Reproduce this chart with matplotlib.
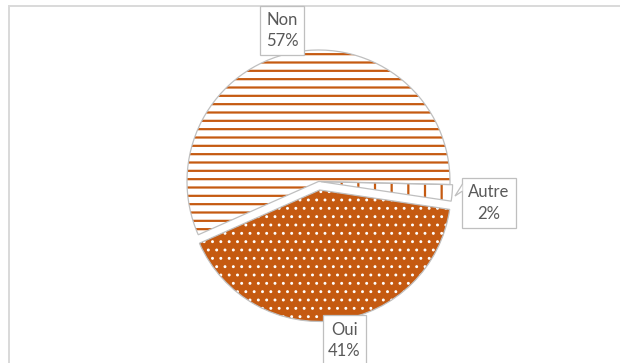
import matplotlib
matplotlib.use("Agg")
import matplotlib.pyplot as plt
from matplotlib.patches import Rectangle, Polygon

plt.rcParams['font.family'] = ['Lato', 'DejaVu Sans']
plt.rcParams['hatch.linewidth'] = 1.6

# data
labels = ["Oui", "Non", "Autre"]
shares = [41, 57, 2]
explode = [0.065, 0, 0.02]  # fraction of radius
fills = ["#C55A11", "white", "white"]
hatch_colors = ["white", "#C55A11", "#C55A11"]
hatches = ["..", "--", "|"]

W, H = 620, 363
fig = plt.figure(figsize=(W / 100, H / 100), dpi=100)
ax = fig.add_axes([0, 0, 1, 1])

center = (318.5, H - 181.5)
radius = 131.5
start = -8.5
offsets = [e * radius for e in explode]  # pie wants data units here

# filled wedges with hatch
wedges, _ = ax.pie(shares, explode=offsets, colors=fills, hatch=hatches,
                   startangle=start, counterclock=False, center=center,
                   radius=radius, wedgeprops=dict(linewidth=0), frame=True)
for w, hc in zip(wedges, hatch_colors):
    w.set_edgecolor(hc)
    w.set_linewidth(0)
# the dotted pattern uses finer dots
if hasattr(wedges[0], "set_hatch_linewidth"):
    wedges[0].set_hatch_linewidth(0.9)

# thin outlines
ax.pie(shares, explode=offsets, colors=["none"] * 3, startangle=start,
       counterclock=False, center=center, radius=radius, frame=True,
       wedgeprops=dict(linewidth=0.9, edgecolor="#BFBFBF", fill=False))
ax.set_xlim(0, W)
ax.set_ylim(0, H)
ax.set_aspect("auto")
ax.axis("off")

# chart frame (top/left visible)
ax.plot([8.5, 8.5, W + 5], [-5, H - 5.5, H - 5.5], color="#D9D9D9", lw=1.4,
        solid_joinstyle="miter")

# data callouts: box (x0, y0, x1, y1 in image px)
boxes = {
    "Non": (260, 6, 304, 55),
    "Autre": (462, 178, 516, 228),
    "Oui": (323, 315, 366, 366),
}
for lab, pct in zip(labels, shares):
    x0, y0, x1, y1 = boxes[lab]
    ax.add_patch(Rectangle((x0, H - y1), x1 - x0, y1 - y0, facecolor="white",
                           edgecolor="#BFBFBF", lw=0.9, zorder=5))
    ax.text((x0 + x1) / 2, H - (y0 + y1) / 2, f"{lab}\n{pct}%", ha="center",
            va="center", fontsize=12, color="#595959", linespacing=1.45,
            zorder=6)

# pointer of the Autre callout
ax.add_patch(Polygon([(462.5, H - 184), (455, H - 196), (462.5, H - 191)],
                     closed=False, facecolor="white", edgecolor="#BFBFBF",
                     lw=0.9, zorder=6))

fig.savefig("out.png", dpi=100)
